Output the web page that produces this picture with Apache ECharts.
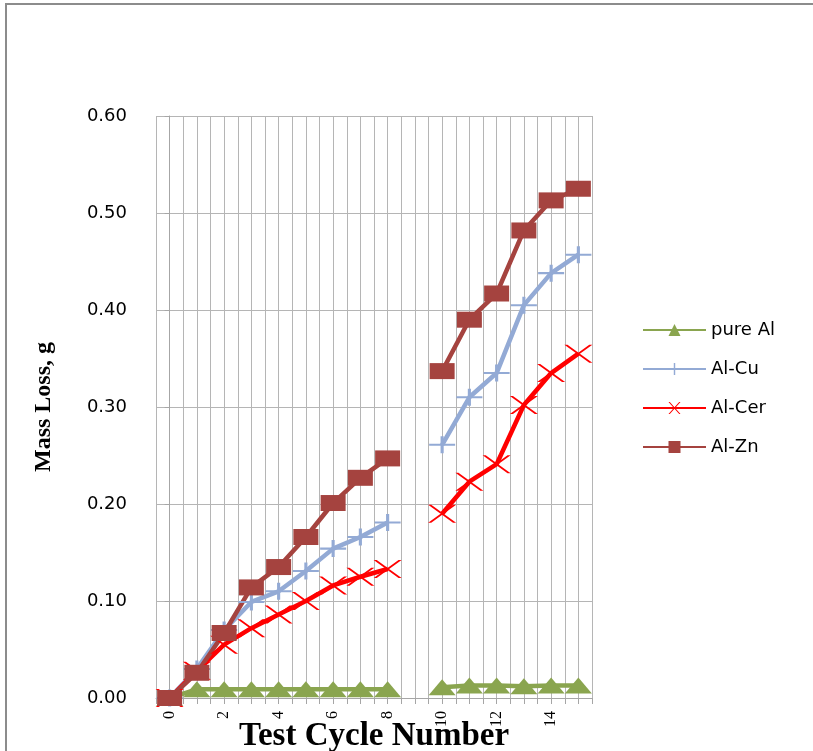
<!DOCTYPE html>
<html>
<head>
<meta charset="utf-8">
<script src="https://cdn.jsdelivr.net/npm/echarts@6/dist/echarts.min.js"></script>
<style>
html,body{margin:0;padding:0;background:#fff;}
#chart{width:813px;height:751px;}
</style>
</head>
<body>
<div id="chart"></div>
<script>
// Test cycle numbers (cycle 9 has no measurement)
const cycles = [0,1,2,3,4,5,6,7,8,9,10,11,12,13,14,15];
const pureAl = [0.000,0.009,0.009,0.009,0.009,0.009,0.009,0.009,0.009,null,0.011,0.013,0.013,0.012,0.013,0.013];
const alCu   = [0.000,0.030,0.070,0.099,0.110,0.131,0.154,0.166,0.181,null,0.261,0.310,0.335,0.405,0.438,0.457];
const alCer  = [0.000,0.028,0.055,0.072,0.086,0.100,0.116,0.125,0.133,null,0.190,0.223,0.241,0.302,0.335,0.355];
const alZn   = [0.000,0.026,0.067,0.114,0.135,0.166,0.201,0.227,0.247,null,0.337,0.390,0.417,0.482,0.513,0.525];
const seriesNames = ['pure Al','Al-Cu','Al-Cer','Al-Zn'];
const yTicks = [0,0.1,0.2,0.3,0.4,0.5,0.6];

function pairs(vals){ return cycles.map((c,i)=> vals[i]==null ? [c,'-'] : [c, vals[i]]); }

const plusPath = 'path://M0,4.4H10V5.6H0Z M4.4,0H5.6V10H4.4Z';
const crossPath = 'path://M0,0L1.1,0L10,10L8.9,10Z M8.9,0L10,0L1.1,10L0,10Z';

const chart = echarts.init(document.getElementById('chart'), null, {renderer:'canvas'});
const option = {
  animation:false,
  backgroundColor:'#ffffff',
  graphic:[{
    type:'rect', shape:{x:6,y:4,width:900,height:900},
    style:{fill:'none',stroke:'#8c8c8c',lineWidth:2}, silent:true, z:-10
  }],
  grid:{left:156,right:221,top:116,bottom:53,containLabel:false,outerBoundsMode:'none'},
  legend:{
    orient:'vertical', left:637, top:316,
    itemWidth:63, itemHeight:15, itemGap:21,
    data:seriesNames,
    textStyle:{fontFamily:'DejaVu Sans',fontSize:18,color:'#000'}
  },
  xAxis:{
    type:'value', min:-0.5, max:15.5, interval:0.5,
    name:'Test Cycle Number', nameLocation:'middle', nameGap:22, nameMoveOverlap:false,
    nameTextStyle:{fontFamily:'Liberation Serif',fontWeight:'bold',fontSize:33,color:'#000'},
    axisLine:{show:true,onZero:false,lineStyle:{color:'#a6a6a6',width:1}},
    axisTick:{show:true,length:6,lineStyle:{color:'#a6a6a6'}},
    axisLabel:{
      rotate:90, margin:13, fontFamily:'Liberation Serif', fontSize:16, color:'#000',
      formatter:function(v){ return (Number.isInteger(v) && v%2===0 && v>=0) ? String(v) : ''; }
    },
    splitLine:{show:true,lineStyle:{color:'#b5b5b5',width:1}}
  },
  yAxis:{
    type:'value', min:yTicks[0], max:yTicks[yTicks.length-1], interval:0.1,
    name:'Mass Loss, g', nameLocation:'middle', nameGap:100, nameMoveOverlap:false,
    nameTextStyle:{fontFamily:'Liberation Serif',fontWeight:'bold',fontSize:24,color:'#000'},
    axisLine:{show:true,lineStyle:{color:'#a6a6a6',width:1}},
    axisTick:{show:true,length:5,lineStyle:{color:'#a6a6a6'}},
    axisLabel:{margin:29,fontFamily:'DejaVu Sans',fontSize:18,color:'#000',
      formatter:function(v){ return v.toFixed(2); }},
    splitLine:{show:true,lineStyle:{color:'#b5b5b5',width:1}}
  },
  series:[
    {name:seriesNames[0], type:'line', data:pairs(pureAl), connectNulls:false,
     symbol:'triangle', symbolSize:[27,16], color:'#8aa54f',
     lineStyle:{width:4.5,color:'#8aa54f'}, itemStyle:{color:'#8aa54f'}},
    {name:seriesNames[1], type:'line', data:pairs(alCu), connectNulls:false,
     symbol:plusPath, symbolSize:[26,17], symbolKeepAspect:false, color:'#93aad5',
     lineStyle:{width:4.5,color:'#93aad5'}, itemStyle:{color:'#93aad5'}},
    {name:seriesNames[2], type:'line', data:pairs(alCer), connectNulls:false,
     symbol:crossPath, symbolSize:[28,18], symbolKeepAspect:false, color:'#ff0000',
     lineStyle:{width:4.5,color:'#ff0000'}, itemStyle:{color:'#ff0000'}},
    {name:seriesNames[3], type:'line', data:pairs(alZn), connectNulls:false,
     symbol:'rect', symbolSize:[25,16], color:'#a5433f',
     lineStyle:{width:4.5,color:'#a5433f'}, itemStyle:{color:'#a5433f'}}
  ]
};
chart.setOption(option);
</script>
</body>
</html>
